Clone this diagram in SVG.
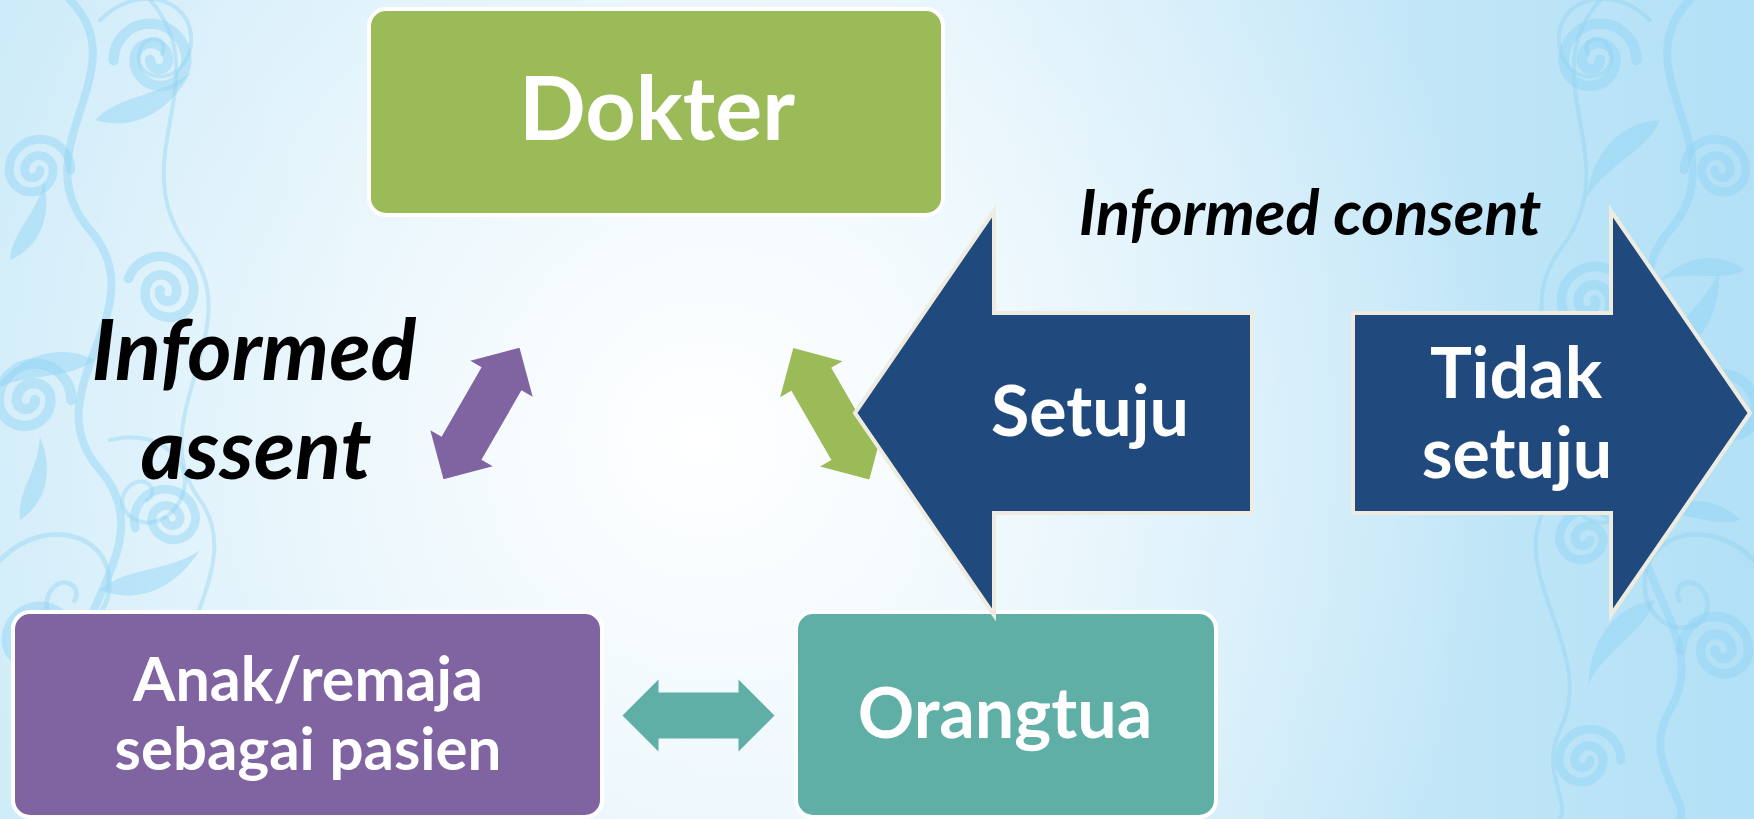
<svg xmlns="http://www.w3.org/2000/svg" width="1754" height="819" viewBox="0 0 1754 819">
<style>
.box{stroke:#ffffff;stroke-width:4}
.wt{font-family:Lato,"Open Sans","DejaVu Sans",sans-serif;font-weight:bold;fill:#ffffff;text-anchor:middle}
.bk{font-family:Lato,"Open Sans","DejaVu Sans",sans-serif;font-weight:bold;font-style:italic;fill:#000000;text-anchor:middle}
.bigarrow{fill:#204A7D;stroke:#EEECE1;stroke-width:4;stroke-linejoin:miter}
.orn{fill:none;stroke:#8ED2F3;stroke-width:8;stroke-linecap:round;opacity:0.45}
.orn2{fill:none;stroke:#8ED2F3;stroke-width:4;stroke-linecap:round;opacity:0.4}
.ornf{fill:#8ED2F3;opacity:0.45}
</style>
<defs>
<radialGradient id="glow" cx="700" cy="440" r="820" gradientUnits="userSpaceOnUse">
<stop offset="0" stop-color="#ffffff" stop-opacity="1"/>
<stop offset="0.3" stop-color="#ffffff" stop-opacity="0.7"/>
<stop offset="1" stop-color="#ffffff" stop-opacity="0"/>
</radialGradient>
<linearGradient id="base" x1="0" y1="0" x2="1" y2="0">
<stop offset="0" stop-color="#CDEBF9"/>
<stop offset="0.5" stop-color="#DDF1FB"/>
<stop offset="1" stop-color="#B2E0F6"/>
</linearGradient>
<path id="dbl" d="M0,-76 L36,-40 L23,-40 L23,40 L36,40 L0,76 L-36,40 L-23,40 L-23,-40 L-36,-40 Z"/>
<path id="curl" d="M-28,0 A28,28 0 0 1 28,0 A20,20 0 0 1 -12,0 A13,13 0 0 1 14,0 A7,7 0 0 1 0,0"/>
<path id="leaf" d="M0,0 C20,-30 60,-34 86,-64 C70,-14 34,4 0,0 Z"/>
<path id="scroll" d="M0,0 C40,-40 100,-20 90,30 C80,70 30,60 40,30 C48,10 70,20 62,34"/>
</defs>

<g id="background">
<rect x="0" y="0" width="1754" height="819" fill="url(#base)"/>
<rect x="0" y="0" width="1754" height="819" fill="url(#glow)"/>
</g>

<g id="ornament-left">
<path class="orn" d="M70,0 C140,70 20,150 90,230 C160,310 30,390 100,470 C170,550 40,630 90,710 C120,760 70,800 80,819"/>
<path class="orn2" d="M150,0 C220,80 120,160 190,250 C250,330 140,420 200,500 C250,570 150,650 190,730 C210,770 180,800 190,819"/>
<use href="#curl" class="orn" transform="translate(150,60) scale(1.3)"/>
<use href="#curl" class="orn" transform="translate(40,170) scale(-1.1,1.1)"/>
<use href="#curl" class="orn" transform="translate(160,290) rotate(20) scale(1.2)"/>
<use href="#curl" class="orn" transform="translate(35,400) scale(-1.3,1.3)"/>
<use href="#curl" class="orn" transform="translate(165,520) rotate(-15) scale(1.1)"/>
<use href="#curl" class="orn" transform="translate(40,640) scale(-1.2,1.2)"/>
<use href="#curl" class="orn" transform="translate(150,760) scale(1.1)"/>
<use href="#scroll" class="orn2" transform="translate(100,20)"/>
<use href="#scroll" class="orn2" transform="translate(110,440) rotate(30)"/>
<use href="#scroll" class="orn2" transform="translate(0,560) scale(1.2)"/>
<use href="#leaf" class="ornf" transform="translate(95,120) rotate(10)"/>
<use href="#leaf" class="ornf" transform="translate(95,360) rotate(200)"/>
<use href="#leaf" class="ornf" transform="translate(100,590) rotate(15)"/>
<use href="#leaf" class="ornf" transform="translate(10,260) rotate(-30) scale(0.8)"/>
<use href="#leaf" class="ornf" transform="translate(20,520) rotate(-40) scale(0.8)"/>
</g>

<g id="ornament-right">
<path class="orn" d="M1690,0 C1620,70 1740,150 1670,230 C1600,310 1730,390 1660,470 C1590,550 1720,630 1670,710 C1640,760 1690,800 1680,819"/>
<path class="orn2" d="M1600,0 C1530,80 1630,160 1560,250 C1500,330 1610,420 1550,500 C1500,570 1600,650 1560,730 C1540,770 1570,800 1560,819"/>
<use href="#curl" class="orn" transform="translate(1600,60) scale(-1.3,1.3)"/>
<use href="#curl" class="orn" transform="translate(1715,170) scale(1.1)"/>
<use href="#curl" class="orn" transform="translate(1595,300) rotate(-20) scale(-1.2,1.2)"/>
<use href="#curl" class="orn" transform="translate(1720,410) scale(1.3)"/>
<use href="#curl" class="orn" transform="translate(1590,540) rotate(15) scale(-1.1,1.1)"/>
<use href="#curl" class="orn" transform="translate(1715,650) scale(1.2)"/>
<use href="#curl" class="orn" transform="translate(1590,760) scale(-1.1,1.1)"/>
<use href="#scroll" class="orn2" transform="translate(1650,20) scale(-1,1)"/>
<use href="#scroll" class="orn2" transform="translate(1640,440) rotate(-30) scale(-1,1)"/>
<use href="#scroll" class="orn2" transform="translate(1754,560) scale(-1.2,1.2)"/>
<use href="#leaf" class="ornf" transform="translate(1660,120) rotate(170)"/>
<use href="#leaf" class="ornf" transform="translate(1660,360) rotate(-20)"/>
<use href="#leaf" class="ornf" transform="translate(1655,600) rotate(165)"/>
<use href="#leaf" class="ornf" transform="translate(1745,270) rotate(210) scale(0.8)"/>
<use href="#leaf" class="ornf" transform="translate(1740,520) rotate(220) scale(0.8)"/>
</g>

<g id="node-dokter">
<rect class="box" x="369" y="9" width="574" height="206" rx="17" fill="#9BBB59"/>
<text class="wt" x="657" y="140" font-size="88">Dokter</text>
</g>

<g id="node-anak">
<rect class="box" x="13" y="612" width="589" height="205" rx="17" fill="#8064A2"/>
<text class="wt" x="308" y="701" font-size="61">Anak/remaja</text>
<text class="wt" x="308" y="770" font-size="60">sebagai pasien</text>
</g>

<g id="node-orangtua">
<rect class="box" x="796" y="612" width="420" height="205" rx="17" fill="#5FAFA6"/>
<text class="wt" x="1005" y="738" font-size="70">Orangtua</text>
</g>

<g id="connectors">
<use href="#dbl" fill="#8064A2" transform="translate(481.5,413.5) rotate(30)"/>
<use href="#dbl" fill="#9BBB59" transform="translate(831.3,413.8) rotate(-30)"/>
<use href="#dbl" fill="#5FAFA6" transform="translate(698.5,715.5) rotate(90)"/>
</g>

<g id="node-setuju">
<path class="bigarrow" d="M855,413 L994,211 L994,313 L1252,313 L1252,513 L994,513 L994,615 Z"/>
<text class="wt" x="1090" y="436" font-size="70">Setuju</text>
</g>

<g id="node-tidak-setuju">
<path class="bigarrow" d="M1353,313 L1611,313 L1611,211 L1750,413 L1611,615 L1611,513 L1353,513 Z"/>
<text class="wt" x="1516" y="398" font-size="70">Tidak</text>
<text class="wt" x="1517" y="478" font-size="70">setuju</text>
</g>

<g id="label-assent">
<text class="bk" x="254" y="380" font-size="85">Informed</text>
<text class="bk" x="256" y="479" font-size="85">assent</text>
</g>

<g id="label-consent">
<text class="bk" x="1310" y="235" font-size="63">Informed consent</text>
</g>
</svg>
